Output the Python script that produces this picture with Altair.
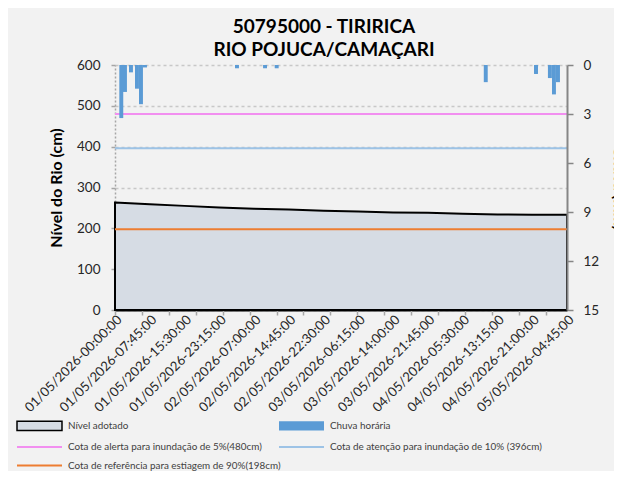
import altair as alt
import pandas as pd

# ---- data ----
x_labels = [
    "01/05/2026-00:00:00", "01/05/2026-07:45:00", "01/05/2026-15:30:00", "01/05/2026-23:15:00",
    "02/05/2026-07:00:00", "02/05/2026-14:45:00", "02/05/2026-22:30:00", "03/05/2026-06:15:00",
    "03/05/2026-14:00:00", "03/05/2026-21:45:00", "04/05/2026-05:30:00", "04/05/2026-13:15:00",
    "04/05/2026-21:00:00", "05/05/2026-04:45:00",
]
# hours since 01/05/2026 00:00 for each label
label_hours = [0, 7.75, 15.5, 23.25, 31, 38.75, 46.5, 54.25, 62, 69.75, 77.5, 85.25, 93, 100.75]
# river level (cm) at each labelled time
level_cm = [263, 259, 255, 251, 248, 246, 243, 241, 239, 238, 236, 234, 233, 233]

# hourly rain bars: start hour and mm
rain_hours = [0.96, 1.78, 3.12, 4.46, 5.35, 6.24, 26.75, 33.0, 35.6, 82.2, 93.4, 96.5, 97.4, 98.3]
rain_mm = [3.25, 1.65, 0.45, 1.45, 2.4, 0.15, 0.2, 0.2, 0.2, 1.05, 0.55, 0.8, 1.8, 1.05]

tick_hours = [0, 6, 12, 18, 24, 30, 36, 42, 48, 54, 60, 66, 72, 78, 84, 90, 96]

alert_cm = 480
attention_cm = 396
reference_cm = 198

legend_names = [
    "Nível adotado",
    "Cota de alerta para inundação de 5%(480cm)",
    "Cota de referência para estiagem de 90%(198cm)",
    "Chuva horária",
    "Cota de atenção para inundação de 10% (396cm)",
]
legend_fills = ["#d6dce4", "#f28ff0", "#ed7d31", "#5b9bd5", "#9dc3e6"]
legend_strokes = ["black", "transparent", "transparent", "transparent", "transparent"]

# ---- tables ----
level_df = pd.DataFrame({"hour": label_hours, "cm": level_cm})
rain_df = pd.DataFrame({"hour": rain_hours, "mm": rain_mm})
rain_df["hour_end"] = rain_df["hour"] + 0.88
legend_df = pd.DataFrame({"serie": legend_names})

FONT = "Lato"
x_domain = [label_hours[0], label_hours[-1]]
x_scale = alt.Scale(domain=x_domain, nice=False, zero=False)
y_scale = alt.Scale(domain=[0, 600], nice=False)

label_array = "[" + ",".join("'" + s + "'" for s in x_labels) + "]"
label_expr = label_array + "[round(datum.value / 7.75)]"

x_axis_labels = alt.Axis(
    values=label_hours, labelExpr=label_expr, labelAngle=-45, labelFont=FONT,
    labelFontSize=13.2, labelColor="#262626", tickSize=0, labelPadding=3,
    domainColor="black", domainWidth=2, grid=False, title=None, orient="bottom",
    labelOverlap=False, labelBound=False, labelFlush=False,
)
x_axis_ticks = alt.Axis(
    values=tick_hours, labels=False, domain=False, ticks=True, tickColor="#a6a6a6",
    tickSize=5, tickWidth=1.5, grid=False, title=None, orient="bottom",
)
y_axis_left = alt.Axis(
    values=[0, 100, 200, 300, 400, 500, 600], title="Nível do Rio (cm)",
    titleFont=FONT, titleFontSize=16, titleFontWeight="bold", titleColor="black",
    titlePadding=12, labelFont=FONT, labelFontSize=13.5, labelColor="#262626",
    labelPadding=11, domainColor="#a6a6a6", domainDash=[2, 2], domainWidth=1.5,
    tickColor="#a6a6a6", tickSize=4, tickWidth=1.5,
    grid=True, gridColor="#c8c8c8", gridDash=[3, 3], gridWidth=1.5,
)
y_axis_right = alt.Axis(
    values=[0, 3, 6, 9, 12, 15], orient="right", title="Chuva (mm)",
    titleFont=FONT, titleFontSize=16, titleFontWeight="bold", titleColor="black",
    titlePadding=12, labelFont=FONT, labelFontSize=13.5, labelColor="#262626",
    labelPadding=10, domainColor="#868686", domainWidth=2, tickColor="#868686",
    tickSize=6, tickWidth=1.5, grid=False, zindex=1,
)

area = alt.Chart(level_df).mark_area(
    fill="#d6dce4", stroke="black", strokeWidth=2, interpolate="linear"
).encode(
    x=alt.X("hour:Q", scale=x_scale, axis=x_axis_labels),
    y=alt.Y("cm:Q", scale=y_scale, axis=y_axis_left),
)

def hline(value, color):
    return alt.Chart(pd.DataFrame({"cm": [value]})).mark_rule(
        color=color, strokeWidth=2
    ).encode(y=alt.Y("cm:Q", scale=y_scale))

r_alert = hline(alert_cm, "#f28ff0")
r_att = hline(attention_cm, "#9dc3e6")
r_ref = hline(reference_cm, "#ed7d31")

rect_path = "M-4.09,-0.85H4.09V0.85H-4.09Z"
line_path = "M-4.09,-0.18H4.09V0.18H-4.09Z"
leg = alt.Legend(
    title=None, orient="none", legendX=-82, legendY=354, columns=2,
    columnPadding=-5, rowPadding=6.5, symbolSize=121, labelOffset=22,
    labelFont=FONT, labelFontSize=9.9, labelColor="#404040", padding=0,
    symbolStrokeWidth=1.5, labelLimit=400, symbolOpacity=1,
)
legend_layer = alt.Chart(legend_df).mark_point(filled=True).encode(
    fill=alt.Fill("serie:N", scale=alt.Scale(domain=legend_names, range=legend_fills), legend=leg),
    stroke=alt.Stroke("serie:N", scale=alt.Scale(domain=legend_names, range=legend_strokes), legend=leg),
    shape=alt.Shape("serie:N", scale=alt.Scale(
        domain=legend_names,
        range=[rect_path, line_path, line_path, rect_path, line_path]), legend=leg),
).transform_filter("false")

left = alt.layer(area, r_ref, r_att, r_alert, legend_layer)

rain = alt.Chart(rain_df).mark_rect(color="#5b9bd5").encode(
    x=alt.X("hour:Q", scale=x_scale, axis=x_axis_ticks),
    x2="hour_end:Q",
    y=alt.Y("mm:Q", scale=alt.Scale(domain=[0, 15], reverse=True, nice=False), axis=y_axis_right),
    y2=alt.datum(0),
)

chart = alt.layer(left, rain).resolve_scale(y="independent").resolve_axis(
    x="independent", y="independent"
).properties(
    width=452, height=245,
    autosize=alt.AutoSizeParams(type="none"),
    padding={"left": 107, "top": 57, "right": 47, "bottom": 161},
    background="#f2f2f2",
    title=alt.TitleParams(
        text=["50795000 - TIRIRICA", "RIO POJUCA/CAMAÇARI"], font=FONT, fontSize=19,
        fontWeight="bold", color="black", anchor="middle", dx=-17, offset=-2, lineHeight=23,
        frame="group",
    ),
).configure_view(stroke=None, fill="white")

chart.save("out.html", embed_options={"renderer": "svg", "actions": False})
